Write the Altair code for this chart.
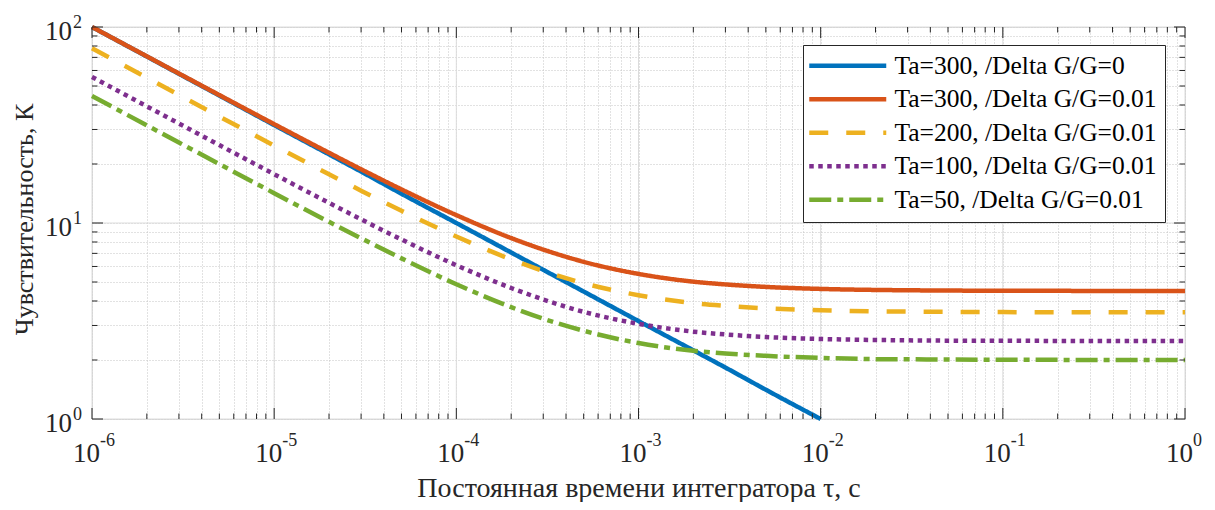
import altair as alt
import pandas as pd

# ---------------- data ----------------
names = [
    "Ta=300, /Delta G/G=0",
    "Ta=300, /Delta G/G=0.01",
    "Ta=200, /Delta G/G=0.01",
    "Ta=100, /Delta G/G=0.01",
    "Ta=50, /Delta G/G=0.01",
]
colors = ["#0072BD", "#D95319", "#EDB120", "#7E2F8E", "#77AC30"]
dashes = [[1, 0], [1, 0], [19, 18], [4.5, 4.5], [22, 6, 6, 6]]

tau = [1e-6, 2e-6, 3e-6, 5e-6, 1e-5, 2e-5, 3e-5, 5e-5, 1e-4, 2e-4, 3e-4, 5e-4,
       1e-3, 2e-3, 3e-3, 5e-3, 1e-2, 2e-2, 3e-2, 5e-2, 1e-1, 2e-1, 5e-1, 1.0]

tau_blue = [1e-6, 2e-6, 3e-6, 5e-6, 1e-5, 2e-5, 3e-5, 5e-5, 1e-4, 2e-4, 3e-4, 5e-4,
            1e-3, 2e-3, 3e-3, 5e-3, 1e-2]
s_blue = [100.0, 70.7, 57.7, 44.7, 31.6, 22.4, 18.3, 14.1, 10.0, 7.07, 5.77, 4.47,
          3.16, 2.24, 1.83, 1.41, 1.0]
s_red = [100.0, 70.85, 57.91, 44.95, 31.94, 22.81, 18.80, 14.84, 10.97, 8.38, 7.32, 6.34,
         5.50, 5.02, 4.86, 4.72, 4.61, 4.555, 4.537, 4.522, 4.511, 4.506, 4.502, 4.501]
s_yellow = [77.86, 55.11, 45.04, 34.96, 24.84, 17.74, 14.62, 11.54, 8.53, 6.52, 5.69, 4.93,
            4.28, 3.90, 3.78, 3.67, 3.59, 3.54, 3.53, 3.52, 3.51, 3.505, 3.50, 3.50]
s_purple = [55.61, 39.36, 32.17, 24.97, 17.75, 12.67, 10.44, 8.24, 6.09, 4.66, 4.07, 3.52,
            3.06, 2.79, 2.70, 2.62, 2.56, 2.53, 2.52, 2.51, 2.506, 2.503, 2.50, 2.50]
s_green = [44.49, 31.49, 25.74, 19.98, 14.20, 10.14, 8.36, 6.60, 4.87, 3.72, 3.25, 2.82,
           2.44, 2.23, 2.16, 2.10, 2.05, 2.02, 2.016, 2.01, 2.005, 2.003, 2.0, 2.0]

x_major = [1e-6, 1e-5, 1e-4, 1e-3, 1e-2, 1e-1, 1.0]
x_exp = ["-6", "-5", "-4", "-3", "-2", "-1", "0"]
y_major = [1.0, 10.0, 100.0]
y_exp = ["0", "1", "2"]
x_minor = [k * d for d in [1e-6, 1e-5, 1e-4, 1e-3, 1e-2, 1e-1] for k in range(2, 10)]
y_minor = [k * d for d in [1.0, 10.0] for k in range(2, 10)]

x_title = "Постоянная времени интегратора τ, с"
y_title = "Чувствительность, К"

# ---------------- table ----------------
rows = []
for xs, ys, nm in [(tau_blue, s_blue, names[0]), (tau, s_red, names[1]), (tau, s_yellow, names[2]),
                   (tau, s_purple, names[3]), (tau, s_green, names[4])]:
    for a, b in zip(xs, ys):
        rows.append({"tau": a, "val": b, "series": nm})
df = pd.DataFrame(rows)

W, H = 1093, 392
FONT = "Liberation Serif, Times New Roman, serif"
INK = "#262626"

xscale = alt.Scale(type="log", domain=[1e-6, 1.0], nice=False)
yscale = alt.Scale(type="log", domain=[1.0, 100.0], nice=False)

xaxis = alt.Axis(values=x_major + x_minor, grid=True, gridColor="#c4c4c4", gridDash=[1, 2],
                 gridWidth=1, ticks=False, labels=False, domain=False, title=x_title,
                 titleFont=FONT, titleFontSize=28, titleFontWeight="normal", titleColor=INK,
                 titlePadding=55)
yaxis = alt.Axis(values=y_major + y_minor, grid=True, gridColor="#c4c4c4", gridDash=[1, 2],
                 gridWidth=1, ticks=False, labels=False, domain=False, title=y_title,
                 titleFont=FONT, titleFontSize=26, titleFontWeight="normal", titleColor=INK,
                 titlePadding=55, titleY=192)


def X(field):
    return alt.X(field, type="quantitative", scale=xscale, axis=xaxis)


def Y(field):
    return alt.Y(field, type="quantitative", scale=yscale, axis=yaxis)


dfxM = pd.DataFrame({"t": x_major, "e": x_exp, "b": ["10"] * len(x_major)})
dfyM = pd.DataFrame({"t": y_major, "e": y_exp, "b": ["10"] * len(y_major)})
dfxm = pd.DataFrame({"t": x_minor})
dfym = pd.DataFrame({"t": y_minor})

# major grid (solid light)
gx = alt.Chart(dfxM).mark_rule(color="#dcdcdc", strokeWidth=1).encode(x=X("t"))
gy = alt.Chart(dfyM).mark_rule(color="#dcdcdc", strokeWidth=1).encode(y=Y("t"))

legend = alt.Legend(
    title=None, orient="none", legendX=711, legendY=18,
    strokeColor=INK, fillColor="white", padding=8, cornerRadius=0,
    labelFont=FONT, labelFontSize=25.5, labelColor="#000000", labelLimit=400,
    symbolType="M-3.85,0H3.85", symbolSize=400, symbolStrokeWidth=4.5,
    symbolOffset=24, labelOffset=34, rowPadding=6.5,
)

lines = alt.Chart(df).mark_line(strokeWidth=4.5, strokeCap="butt", interpolate="monotone").encode(
    x=X("tau"), y=Y("val"),
    color=alt.Color("series:N", scale=alt.Scale(domain=names, range=colors), legend=legend),
    strokeDash=alt.StrokeDash("series:N", scale=alt.Scale(domain=names, range=dashes), legend=legend),
)

# inward ticks
tk = dict(color=INK, strokeWidth=1)
tb_M = alt.Chart(dfxM).mark_rule(**tk).encode(x=X("t"), y=alt.value(H), y2=alt.value(H - 11))
tb_m = alt.Chart(dfxm).mark_rule(**tk).encode(x=X("t"), y=alt.value(H), y2=alt.value(H - 5.5))
tt_M = alt.Chart(dfxM).mark_rule(**tk).encode(x=X("t"), y=alt.value(0), y2=alt.value(11))
tt_m = alt.Chart(dfxm).mark_rule(**tk).encode(x=X("t"), y=alt.value(0), y2=alt.value(5.5))
tl_M = alt.Chart(dfyM).mark_rule(**tk).encode(y=Y("t"), x=alt.value(0), x2=alt.value(11))
tl_m = alt.Chart(dfym).mark_rule(**tk).encode(y=Y("t"), x=alt.value(0), x2=alt.value(5.5))
tr_M = alt.Chart(dfyM).mark_rule(**tk).encode(y=Y("t"), x=alt.value(W), x2=alt.value(W - 11))
tr_m = alt.Chart(dfym).mark_rule(**tk).encode(y=Y("t"), x=alt.value(W), x2=alt.value(W - 5.5))

# tick labels 10^n
xl_b = alt.Chart(dfxM).mark_text(font=FONT, fontSize=27, align="right", baseline="middle",
                                 dx=8, color=INK).encode(x=X("t"), y=alt.value(H + 35), text="b:N")
xl_e = alt.Chart(dfxM).mark_text(font=FONT, fontSize=18, align="left", baseline="middle",
                                 dx=8, color=INK).encode(x=X("t"), y=alt.value(H + 22), text="e:N")
yl_b = alt.Chart(dfyM).mark_text(font=FONT, fontSize=27, align="right", baseline="middle",
                                 dy=5, color=INK).encode(y=Y("t"), x=alt.value(-20), text="b:N")
yl_e = alt.Chart(dfyM).mark_text(font=FONT, fontSize=18, align="left", baseline="middle",
                                 dy=-4, color=INK).encode(y=Y("t"), x=alt.value(-19), text="e:N")

chart = alt.layer(
    gx, gy, lines, tb_M, tb_m, tt_M, tt_m, tl_M, tl_m, tr_M, tr_m, xl_b, xl_e, yl_b, yl_e
).properties(
    width=W, height=H,
    autosize=alt.AutoSizeParams(type="none"),
    padding={"left": 84, "top": 19, "right": 22, "bottom": 83},
).configure_view(stroke=INK, strokeWidth=1.2).configure(background="white")

chart.save("out.html", embed_options={"renderer": "svg", "actions": False})
